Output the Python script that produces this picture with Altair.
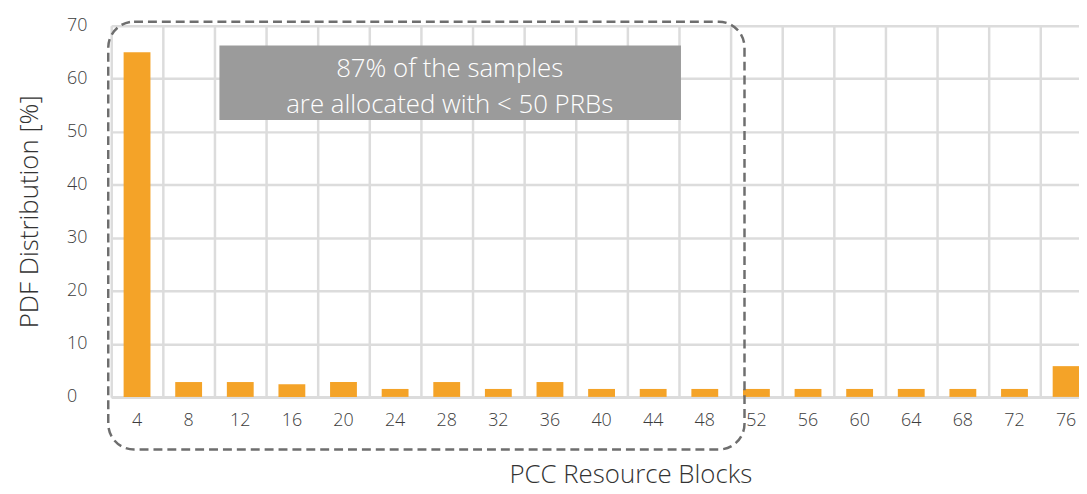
import altair as alt
import pandas as pd

# Data
categories = ["4", "8", "12", "16", "20", "24", "28", "32", "36", "40",
              "44", "48", "52", "56", "60", "64", "68", "72", "76"]
pdf_values = [65.0, 2.8, 2.8, 2.4, 2.8, 1.5, 2.8, 1.5, 2.8, 1.5,
              1.5, 1.5, 1.5, 1.5, 1.5, 1.5, 1.5, 1.5, 5.8]
y_ticks = [0, 10, 20, 30, 40, 50, 60, 70]
note_lines = ["87% of the samples", "are allocated with < 50 PRBs"]

df = pd.DataFrame({"prb": categories, "pdf": pdf_values})

FONT = "Open Sans"
BAR = "#F4A328"
GRID = "#DCDCDC"

W = 988
H = 374

x_enc = alt.X(
    "prb:O",
    sort=categories,
    scale=alt.Scale(paddingInner=0, paddingOuter=0),
    axis=alt.Axis(
        title="PCC Resource Blocks",
        titleFont=FONT, titleFontSize=26, titleFontWeight=300, titleColor="#333333",
        titleX=523, titleY=86, titleBaseline="alphabetic", titleAnchor="middle",
        titleAlign="center",
        labelFont=FONT, labelFontSize=18, labelColor="#3c3c3c", labelAngle=0,
        labelFontWeight=300,
        labelPadding=15, tickSize=0,
        ticks=False, domain=True, domainColor=GRID, domainWidth=3,
        grid=True, gridColor=GRID, gridWidth=2.5, bandPosition=0,
    ),
)

y_enc = alt.Y(
    "pdf:Q",
    scale=alt.Scale(domain=[0, 70], nice=False, zero=True),
    axis=alt.Axis(
        values=y_ticks,
        title="PDF Distribution [%]",
        titleFont=FONT, titleFontSize=26, titleFontWeight=300, titleColor="#333333",
        titleX=-82, titleY=187, titleBaseline="middle", titleAlign="center",
        titleAnchor="middle",
        labelFont=FONT, labelFontSize=18, labelColor="#3c3c3c", labelFontWeight=300,
        labelAlign="left", labelPadding=45, tickSize=0,
        ticks=False, domain=False,
        grid=True, gridColor=GRID, gridWidth=2.5,
    ),
)

bars = alt.Chart(df).mark_bar(
    color=BAR, width=alt.RelativeBandSize(0.52)
).encode(x=x_enc, y=y_enc)

# Annotation: grey note box
note_box = alt.Chart(df).mark_rect(color="#9B9B9B").encode(
    x=alt.value(109), x2=alt.value(574), y=alt.value(20), y2=alt.value(95)
).transform_filter("datum.prb == '4'")

note_text = alt.Chart(df).mark_text(
    text=note_lines, font=FONT, fontSize=26, fontWeight=300, color="white",
    align="center", baseline="alphabetic", lineHeight=36,
).encode(x=alt.value(341), y=alt.value(52)).transform_filter("datum.prb == '4'")

# Annotation: dashed rounded frame around the < 50 PRB region
frame = alt.Chart(df).mark_rect(
    fillOpacity=0, stroke="#6E6E6E", strokeWidth=2.5,
    strokeDash=[9, 5], cornerRadius=26,
).encode(
    x=alt.value(-3), x2=alt.value(638), y=alt.value(-4), y2=alt.value(427)
).transform_filter("datum.prb == '4'")

chart = alt.layer(bars, note_box, note_text, frame).properties(
    width=W, height=H,
    autosize=alt.AutoSizeParams(type="none"),
    padding={"left": 104, "top": 16, "right": -13, "bottom": 93},
).configure_view(stroke=None).configure(background="white")

chart.save("out.html", embed_options={"renderer": "svg", "actions": False})
